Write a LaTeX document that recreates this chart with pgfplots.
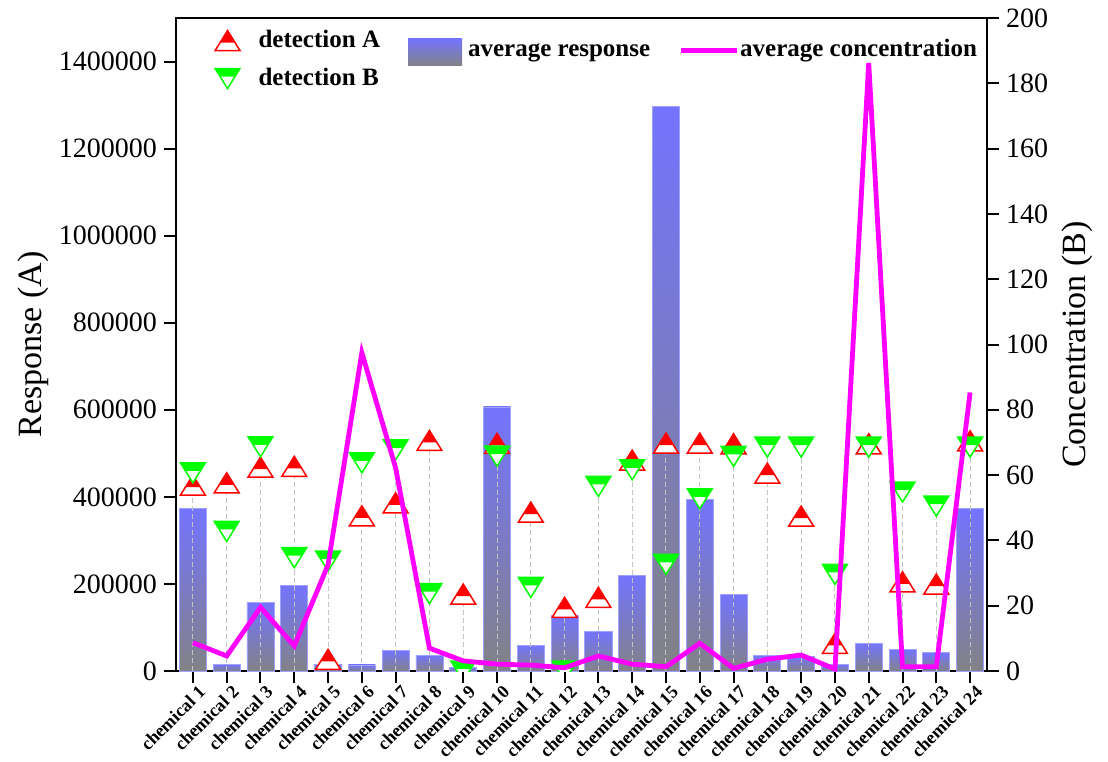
\documentclass[border=0pt]{standalone}
\usepackage{fontspec}
\setmainfont{Liberation Serif}
\usepackage{pgfplots}
\usepackage{pgfplotstable}
\pgfplotsset{compat=1.18}

\definecolor{barTop}{RGB}{116,116,255}
\definecolor{barBot}{RGB}{130,130,135}
\definecolor{barEdge}{RGB}{160,160,255}
\definecolor{mag}{RGB}{255,0,255}
\definecolor{detA}{RGB}{255,0,0}
\definecolor{detB}{RGB}{0,255,0}
\definecolor{dropc}{RGB}{195,195,195}

% half-filled up triangle (detection A)
\pgfdeclareplotmark{halfA}{%
  \pgfscope
  \pgfsetlinewidth{0.75pt}%
  \pgfpathmoveto{\pgfqpoint{0pt}{5pt}}%
  \pgfpathlineto{\pgfqpoint{6.2pt}{-5pt}}%
  \pgfpathlineto{\pgfqpoint{-6.2pt}{-5pt}}%
  \pgfpathclose
  \pgfsetfillcolor{white}\pgfusepath{fill}%
  \pgfpathmoveto{\pgfqpoint{0pt}{5pt}}%
  \pgfpathlineto{\pgfqpoint{3.72pt}{-1pt}}%
  \pgfpathlineto{\pgfqpoint{-3.72pt}{-1pt}}%
  \pgfpathclose
  \pgfsetfillcolor{detA}\pgfusepath{fill}%
  \pgfpathmoveto{\pgfqpoint{0pt}{5pt}}%
  \pgfpathlineto{\pgfqpoint{6.2pt}{-5pt}}%
  \pgfpathlineto{\pgfqpoint{-6.2pt}{-5pt}}%
  \pgfpathclose
  \pgfsetstrokecolor{detA}\pgfusepath{stroke}%
  \endpgfscope
}
% half-filled down triangle (detection B)
\pgfdeclareplotmark{halfB}{%
  \pgfscope
  \pgfsetlinewidth{0.75pt}%
  \pgfpathmoveto{\pgfqpoint{0pt}{-5pt}}%
  \pgfpathlineto{\pgfqpoint{6.2pt}{5pt}}%
  \pgfpathlineto{\pgfqpoint{-6.2pt}{5pt}}%
  \pgfpathclose
  \pgfsetfillcolor{white}\pgfusepath{fill}%
  \pgfpathmoveto{\pgfqpoint{-6.2pt}{5pt}}%
  \pgfpathlineto{\pgfqpoint{6.2pt}{5pt}}%
  \pgfpathlineto{\pgfqpoint{3.72pt}{1pt}}%
  \pgfpathlineto{\pgfqpoint{-3.72pt}{1pt}}%
  \pgfpathclose
  \pgfsetfillcolor{detB}\pgfusepath{fill}%
  \pgfpathmoveto{\pgfqpoint{0pt}{-5pt}}%
  \pgfpathlineto{\pgfqpoint{6.2pt}{5pt}}%
  \pgfpathlineto{\pgfqpoint{-6.2pt}{5pt}}%
  \pgfpathclose
  \pgfsetstrokecolor{detB}\pgfusepath{stroke}%
  \endpgfscope
}

\pgfplotstableread{
x  resp     conc   detA    detB
1  373400   8.7    427000  455000
2  16000    4.6    432400  320700
3  156800   19.5   468400  515100
4  196700   7.7    470000  260200
5  15000    32.5   26800   252600
6  14000    97.5   356600  478300
7  48200    62.2   386400  508200
8  36700    7.0    529600  177500
9  8000     3.1    176800  0
10 606600   2.1    522800  493600
11 59000    1.8    365000  192200
12 128500   1.0    146200  0
13 90200    4.6    169200  424000
14 218700   2.1    484500  462200
15 1296700  1.3    523500  245000
16 393200   8.5    523500  395600
17 176700   0.8    522000  493000
18 36700    3.6    454600  514300
19 34400    4.9    355900  514300
20 15300    0.6    63600   222000
21 64300    186.2  522000  514300
22 50500    1.3    205000  411000
23 42000    1.3    199800  378800
24 373400   85.3   528800  514300
}\chemdata

\pgfplotsset{
  base/.style={
    scale only axis, width=405.5pt, height=326.5pt,
    xmin=0.5, xmax=24.5,
    axis line style={line width=1pt},
    tick style={line width=1pt, black},
    major tick length=6pt,
    tick align=outside,
    minor tick num=0,
    clip marker paths=true,
  },
}

\begin{document}
\begin{tikzpicture}
\begin{axis}[base, name=ax,
  ymin=0, ymax=1500000,
  ytick={0,200000,...,1400000},
  scaled y ticks=false,
  ytick pos=left, xtick pos=bottom,
  yticklabel style={/pgf/number format/1000 sep={}, /pgf/number format/fixed,
     /pgf/number format/assume math mode=true, font=\fontsize{14}{14}\selectfont},
  xtick={1,...,24},
  xticklabels={chemical 1,chemical 2,chemical 3,chemical 4,chemical 5,chemical 6,chemical 7,chemical 8,chemical 9,chemical 10,chemical 11,chemical 12,chemical 13,chemical 14,chemical 15,chemical 16,chemical 17,chemical 18,chemical 19,chemical 20,chemical 21,chemical 22,chemical 23,chemical 24},
  xticklabel style={font=\bfseries\fontsize{9.1}{9.1}\selectfont, xshift=5pt, yshift=-2.5pt, rotate=45, anchor=east, inner sep=0.5pt},
  ylabel={Response (A)},
  ylabel style={at={(axis description cs:-0.1763,0.5)}, rotate=0, anchor=center, font=\fontsize{17}{17}\selectfont},
]
\pgfplotsinvokeforeach{1,...,24}{%
  \addplot[ybar, bar width=0.8, draw=barEdge, line width=0.4pt, top color=barTop, bottom color=barBot,
     restrict x to domain=#1:#1, forget plot] table[x=x, y=resp] {\chemdata};
}
\addplot[ycomb, dropc, line width=0.5pt, dash pattern=on 2.5pt off 1.5pt] table[x=x, y=detA] {\chemdata};
\addplot[ycomb, dropc, line width=0.5pt, dash pattern=on 2.5pt off 1.5pt] table[x=x, y=detB] {\chemdata};
\addplot[only marks, mark=halfA] table[x=x, y=detA] {\chemdata};
\addplot[only marks, mark=halfB] table[x=x, y=detB] {\chemdata};
\end{axis}
\begin{axis}[base,
  ymin=0, ymax=200,
  ytick={0,20,...,200},
  axis y line*=right, axis x line=none,
  yticklabel style={/pgf/number format/assume math mode=true, font=\fontsize{14}{14}\selectfont},
  ylabel={Concentration (B)},
  ylabel style={at={(axis description cs:1.111,0.5)}, rotate=0, anchor=center, font=\fontsize{17}{17}\selectfont},
  legend columns=3,
  legend style={at={(axis description cs:0.0335,0.986)}, anchor=north west, draw=none, fill=none,
     inner sep=0pt, column sep=0pt, row sep=0pt,
     nodes={inner sep=0pt, font=\bfseries\fontsize{12.5}{12.5}\selectfont}},
  legend cell align=left,
]
\addplot[mag, line width=2.4pt, forget plot] table[x=x, y=conc] {\chemdata};
\addlegendimage{legend image code/.code={\path[draw=none,fill=none] (-12pt,-6.5pt) rectangle (15.5pt,6.5pt); \pgfuseplotmark{halfA};}}
\addlegendentry{detection A}
\addlegendimage{legend image code/.code={\path[draw=none,fill=none] (0pt,-6.5pt) rectangle (44pt,6.5pt); \fill[draw=none, top color=barTop, bottom color=barBot] (14pt,-12.5pt) rectangle (41pt,1pt);}}
\addlegendentry[yshift=-5.5pt]{average response}
\addlegendimage{legend image code/.code={\path[draw=none,fill=none] (0pt,-6.5pt) rectangle (45pt,6.5pt); \draw[mag, line width=2.4pt] (15.5pt,-5pt) -- (43.5pt,-5pt);}}
\addlegendentry[yshift=-4.5pt]{average concentration}
\addlegendimage{legend image code/.code={\path[draw=none,fill=none] (-12pt,-6.5pt) rectangle (15.5pt,6.5pt); \pgfuseplotmark{halfB};}}
\addlegendentry{detection B}
\end{axis}
\pgfresetboundingbox
\path[use as bounding box] ([shift={(-88pt,-45pt)}]ax.south west) rectangle ([shift={(60.5pt,9pt)}]ax.north east);
\end{tikzpicture}
\end{document}
